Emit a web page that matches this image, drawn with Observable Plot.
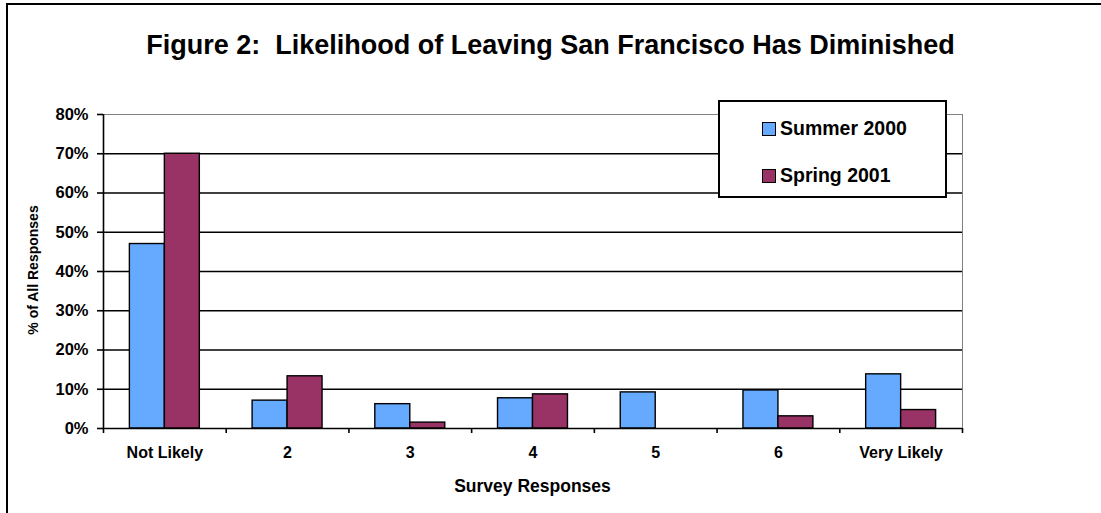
<!DOCTYPE html>
<html>
<head>
<meta charset="utf-8">
<script src="https://cdn.jsdelivr.net/npm/d3@7"></script>
<script src="https://cdn.jsdelivr.net/npm/@observablehq/plot@0.6"></script>
<style>
  html, body { margin: 0; padding: 0; background: #fff; }
  body { font-family: "Liberation Sans", Arial, sans-serif; }
  #wrap { position: relative; width: 1101px; height: 513px; overflow: hidden; background: #fff; }
  #frame { position: absolute; left: 6px; top: 3px; right: -10px; bottom: -10px; border-left: 2px solid #000; border-top: 2px solid #000; }
  #chart { position: absolute; left: 0; top: 0; }
  .title { position: absolute; left: 0; width: 1101px; top: 29px; text-align: center; font-weight: bold; font-size: 27px; line-height: 32px; white-space: pre; color: #000; }
  .xlabel { position: absolute; left: 103px; width: 859px; top: 476px; text-align: center; font-weight: bold; font-size: 17.5px; color: #000; }
  .ylabel { position: absolute; left: 33px; top: 270px; transform: translate(-50%, -50%) rotate(-90deg); font-weight: bold; font-size: 14px; white-space: nowrap; color: #000; }
  .legend { position: absolute; left: 718px; top: 100px; width: 225px; height: 94px; border: 2px solid #000; background: #fff; }
  .legend .item { position: absolute; left: 42px; font-weight: bold; font-size: 19.5px; line-height: 20px; white-space: nowrap; color: #000; }
  .legend .sw { display: inline-block; width: 12px; height: 12px; border: 1.5px solid #000; margin-right: 4px; vertical-align: -1px; }
</style>
</head>
<body>
<div id="wrap">
  <div id="frame"></div>
  <div id="chart"></div>
  <div class="title">Figure 2:  Likelihood of Leaving San Francisco Has Diminished</div>
  <div class="ylabel">% of All Responses</div>
  <div class="xlabel">Survey Responses</div>
  <div class="legend" id="legend"></div>
</div>
<script>
// ---- data ----
const categories = ["Not Likely", "2", "3", "4", "5", "6", "Very Likely"];
const seriesNames = ["Summer 2000", "Spring 2001"];
const summer2000 = [0.47, 0.071, 0.062, 0.077, 0.092, 0.097, 0.138];
const spring2001 = [0.70, 0.133, 0.015, 0.087, 0.0, 0.031, 0.047];
const yTicks = [0, 0.1, 0.2, 0.3, 0.4, 0.5, 0.6, 0.7, 0.8];
const colors = ["#66aaff", "#993366"];

// ---- table ----
const table = [];
categories.forEach((c, i) => {
  table.push({category: c, i, series: seriesNames[0], value: summer2000[i], s: 0});
  table.push({category: c, i, series: seriesNames[1], value: spring2001[i], s: 1});
});

const groupStart = 0.215, barW = 0.285;
const font = '"Liberation Sans", Arial, sans-serif';

const plot = Plot.plot({
  width: 1101,
  height: 513,
  marginLeft: 103,
  marginRight: 139,
  marginTop: 114,
  marginBottom: 85,
  style: {fontFamily: font, color: "#000", background: "transparent", overflow: "visible"},
  x: {type: "linear", domain: [0, categories.length], axis: null},
  y: {domain: [0, 0.8], axis: null},
  color: {domain: seriesNames, range: colors},
  marks: [
    Plot.ruleY([yTicks[yTicks.length - 1]], {stroke: "#808080", strokeWidth: 1}),
    Plot.ruleX([categories.length], {stroke: "#808080", strokeWidth: 1}),
    Plot.ruleY(yTicks.filter(v => v > 0 && v < 0.8), {stroke: "#000", strokeWidth: 1.4}),
    Plot.rectY(table, {
      x1: d => d.i + groupStart + d.s * barW,
      x2: d => d.i + groupStart + (d.s + 1) * barW,
      y1: 0,
      y2: "value",
      fill: "series",
      stroke: "#000",
      strokeWidth: 1.4
    }),
    Plot.ruleY([0], {stroke: "#000", strokeWidth: 1.6}),
    Plot.ruleX([0], {stroke: "#000", strokeWidth: 1.6}),
    Plot.axisY({
      ticks: yTicks,
      tickFormat: d3.format(".0%"),
      tickSize: 6,
      tickPadding: 9,
      stroke: "#000",
      strokeWidth: 1.6,
      fontSize: 16.5,
      fontWeight: "bold",
      label: null
    }),
    Plot.axisX({
      ticks: d3.range(categories.length + 1),
      tickFormat: () => "",
      tickSize: 5,
      stroke: "#000",
      strokeWidth: 1.6,
      label: null
    }),
    Plot.axisX({
      ticks: categories.map((c, i) => i + 0.5),
      tickFormat: v => categories[Math.round(v - 0.5)],
      tickSize: 0,
      tickPadding: 18,
      fontSize: 16,
      fontWeight: "bold",
      label: null
    })
  ]
});
document.getElementById("chart").appendChild(plot);

// ---- legend ----
const legend = document.getElementById("legend");
seriesNames.forEach((name, k) => {
  const item = document.createElement("div");
  item.className = "item";
  item.style.top = (k === 0 ? 16 : 63) + "px";
  const sw = document.createElement("span");
  sw.className = "sw";
  sw.style.background = colors[k];
  item.appendChild(sw);
  item.appendChild(document.createTextNode(name));
  legend.appendChild(item);
});
</script>
</body>
</html>
